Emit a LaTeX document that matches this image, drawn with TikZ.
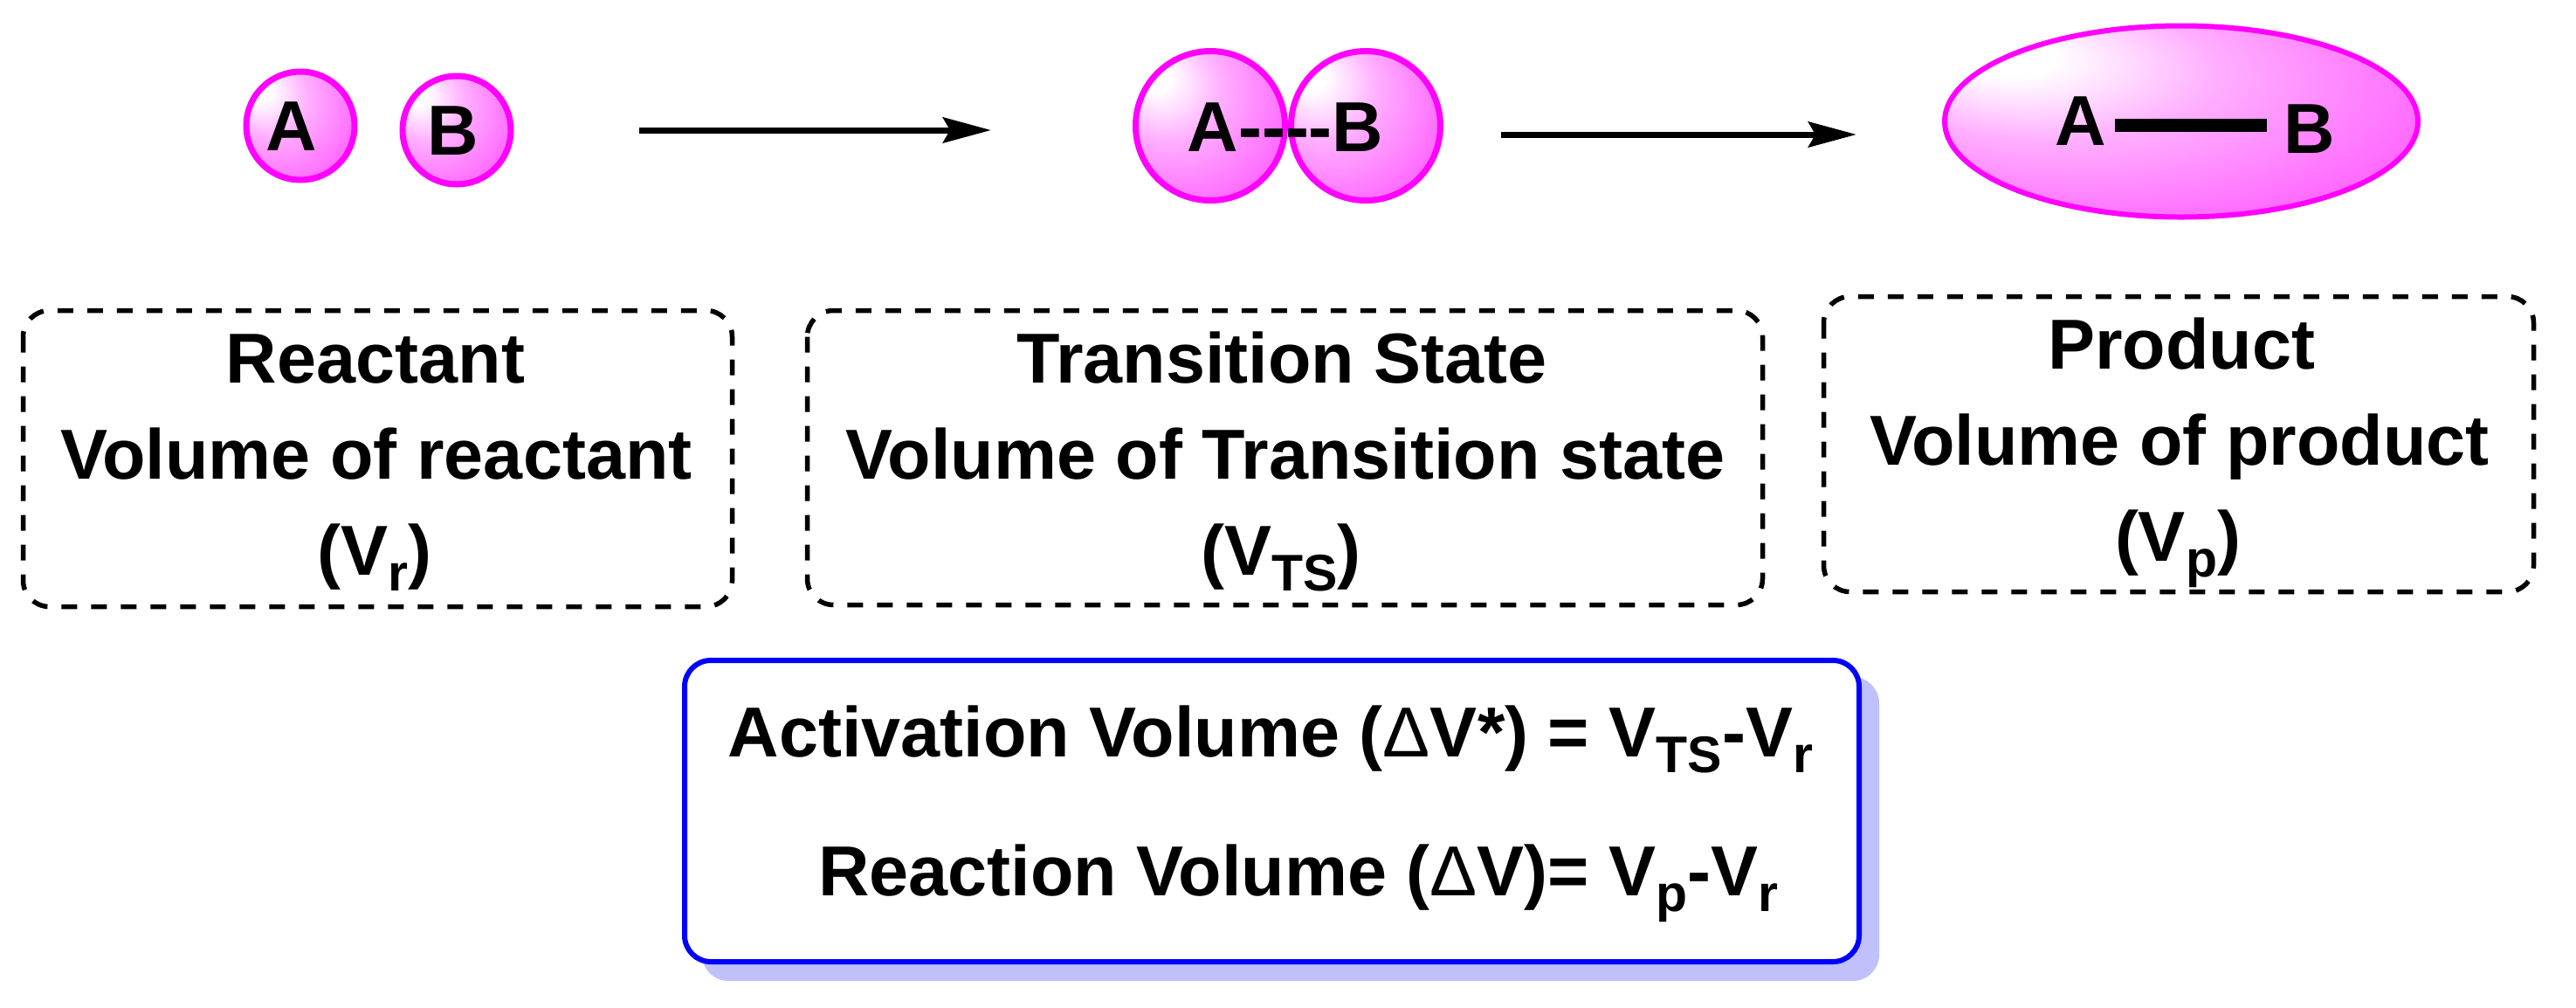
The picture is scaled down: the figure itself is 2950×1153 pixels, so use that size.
\documentclass[tikz,border=0pt]{standalone}
\usepackage{fontspec}
\setmainfont{Liberation Sans}
\usetikzlibrary{arrows.meta,shapes.geometric}
\definecolor{shadowblue}{RGB}{192,192,250}
\definecolor{mag}{RGB}{255,0,255}
\definecolor{bblue}{RGB}{0,0,255}
\pgfdeclareradialshading{spherehl}{\pgfpoint{-20bp}{18bp}}{color(0bp)=(white); color(5bp)=(white); color(18bp)=(mag!32); color(35bp)=(mag!58); color(50bp)=(mag!85); color(60bp)=(mag)}
\newcommand\mysub[1]{\raisebox{-9pt}{\fontsize{29.5pt}{30pt}\selectfont #1}}
\begin{document}
\begin{tikzpicture}[x=0.5pt,y=-0.5pt,
  lbl/.style={font=\fontsize{40.5pt}{48pt}\selectfont\bfseries, inner sep=0pt, anchor=base},
  atom/.style={draw=mag, shade, shading=spherehl, inner sep=0pt},
  arr/.style={line width=3.5pt, -{Stealth[length=27.5pt,width=14.5pt,inset=4pt]}},
  dbox/.style={draw, line width=2.75pt, dash pattern=on 9pt off 8pt, rounded corners=15pt},
  ]
\useasboundingbox (0,0) rectangle (2950,1153);

% reactant spheres
\node[circle, atom, line width=3.5pt, minimum size=62pt] (sA) at (344,144) {};
\node[circle, atom, line width=3.5pt, minimum size=62pt] (sB) at (523,149) {};
\node[lbl] (tA) at (334,172) {A};
\node[lbl] (tB) at (519,177) {B};

% transition state spheres
\node[circle, atom, line width=3.5pt, minimum size=85.5pt] (tsA) at (1386,144) {};
\node[circle, atom, line width=3.5pt, minimum size=85.5pt] (tsB) at (1564,144) {};
\node[lbl] (tAB) at (1472,173) {A-{}-{}-{}-B};

% product ellipse
\node[ellipse, atom, line width=3pt, minimum width=271pt, minimum height=109.5pt] (prod) at (2498,139) {};
\node[lbl] (pA) at (2383,166) {A};
\node[lbl] (pB) at (2645,175) {B};
\coordinate (bond1) at (2422,143.5);
\coordinate (bond2) at (2596,143.5);
\draw[line width=7.5pt] (bond1) -- (bond2);

% arrows
\coordinate (r1s) at (732,149);
\coordinate (r1e) at (1135,149);
\coordinate (r2s) at (1719,154);
\coordinate (r2e) at (2126,154);
\draw[arr] (r1s) -- (r1e);
\draw[arr] (r2s) -- (r2e);

% dashed boxes
\draw[dbox] (26.5,355.5) rectangle (838.5,694.5);
\draw[dbox] (924.5,355.5) rectangle (2018.5,692.5);
\draw[dbox] (2088.5,339.5) rectangle (2901.5,677.5);

\node[lbl] (l1) at (430,438) {Reactant};
\node[lbl] (l2) at (431,548) {Volume of reactant};
\node[lbl] (l3) at (429,658) {(V\mysub{r})};

\node[lbl] (m1) at (1468,438) {Transition State};
\node[lbl] (m2) at (1472,548) {Volume of Transition state};
\node[lbl] (m3) at (1467,658) {(V\mysub{TS})};

\node[lbl] (q1) at (2498,422) {Product};
\node[lbl] (q2) at (2496,532) {Volume of product};
\node[lbl] (q3) at (2494,642) {(V\mysub{p})};

% summary box
\fill[shadowblue, rounded corners=15pt] (804,775) rectangle (2152,1123);
\draw[bblue, line width=3pt, fill=white, rounded corners=15pt] (784,756) rectangle (2129,1101);
\node[lbl] (eq1) at (1455,866) {Activation Volume ({\mdseries Δ}V*) = V\mysub{TS}-V\mysub{r}};
\node[lbl] (eq2) at (1487,1025) {Reaction Volume ({\mdseries Δ}V)= V\mysub{p}-V\mysub{r}};
\end{tikzpicture}
\end{document}
